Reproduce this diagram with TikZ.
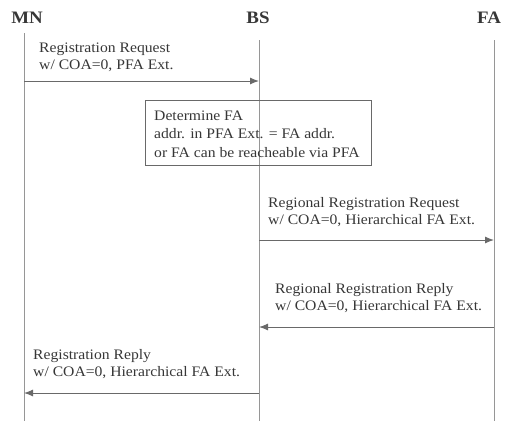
\documentclass[tikz,border=0pt]{standalone}
\usepackage{fontspec}
\setmainfont[FakeStretch=1.08]{Liberation Serif}
\usetikzlibrary{arrows.meta}
\definecolor{lifegray}{RGB}{150,150,150}
\definecolor{msggray}{RGB}{105,105,105}
\definecolor{txtgray}{RGB}{55,55,55}

\begin{document}
\begin{tikzpicture}[
  x=1pt,y=-1pt,
  ent/.style={font=\fontsize{17.5}{20}\selectfont\bfseries,text=txtgray,
              inner sep=0pt,anchor=base},
  life/.style={draw=lifegray,line width=0.9pt},
  msg/.style={draw=msggray,line width=1pt,-{Latex[length=9pt,width=7pt]}},
  lbl/.style={align=left,anchor=base west,inner sep=0pt,text=txtgray,
              font=\fontsize{14.5}{17}\selectfont},
  notebox/.style={draw=msggray,line width=0.8pt}
]
\useasboundingbox (0,0) rectangle (505,421);

% entities and lifelines
\node[ent] (mn) at (27,23) {MN};
\node[ent] (bs) at (258,23) {BS};
\node[ent] (fa) at (489,23) {FA};

\coordinate (mntop) at (24,33);  \coordinate (mnbot) at (24,421);
\coordinate (bstop) at (259,40); \coordinate (bsbot) at (259,421);
\coordinate (fatop) at (494,40); \coordinate (fabot) at (494,421);
\draw[life] (mntop) -- (mnbot);
\draw[life] (bstop) -- (bsbot);
\draw[life] (fatop) -- (fabot);

% message end points
\coordinate (mn1) at (24,81);  \coordinate (bs1) at (259,81);
\coordinate (bs2) at (259,240); \coordinate (fa2) at (494,240);
\coordinate (fa3) at (494,327); \coordinate (bs3) at (259,327);
\coordinate (bs4) at (259,393); \coordinate (mn4) at (24,393);

% anchor = baseline of the last line
\node[lbl] (lreq) at (39,69) {Registration Request\\w/ COA=0, PFA Ext.};
\draw[msg] (mn1) -- (bs1);

\coordinate (boxnw) at (145,100);
\coordinate (boxse) at (371,165);
\draw[notebox] (boxnw) rectangle (boxse);
\node[lbl,font=\fontsize{14.5}{18.5}\selectfont] (lnote) at (154,157)
  {Determine FA\\addr. in PFA Ext. = FA addr.\\or FA can be reacheable via PFA};

\node[lbl] (lrreq) at (268,224) {Regional Registration Request\\w/ COA=0, Hierarchical FA Ext.};
\draw[msg] (bs2) -- (fa2);

\node[lbl] (lrrep) at (275,310) {Regional Registration Reply\\w/ COA=0, Hierarchical FA Ext.};
\draw[msg] (fa3) -- (bs3);

\node[lbl] (lrep) at (33,376) {Registration Reply\\w/ COA=0, Hierarchical FA Ext.};
\draw[msg] (bs4) -- (mn4);
\end{tikzpicture}
\end{document}
